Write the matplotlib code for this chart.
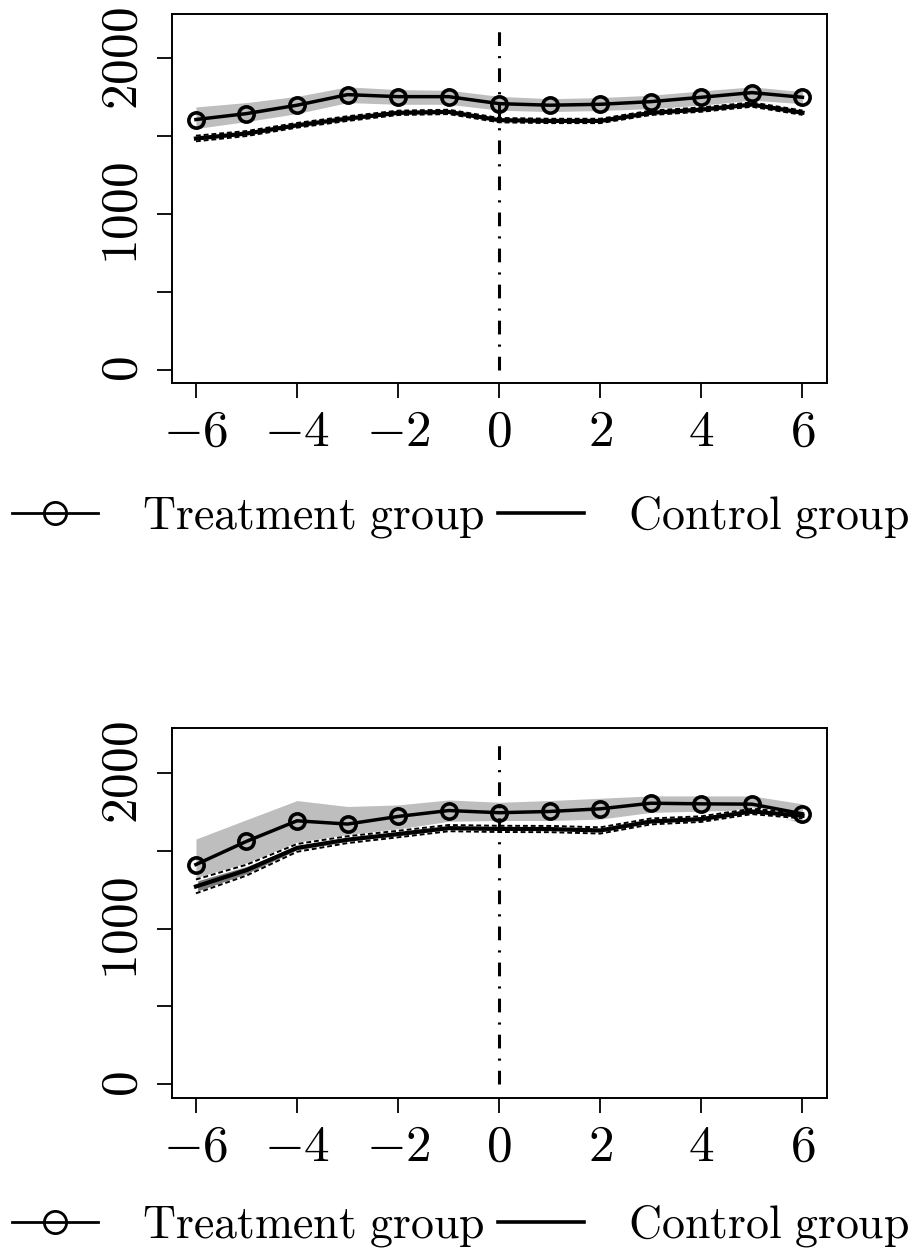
import numpy as np
import matplotlib
matplotlib.use("Agg")
import matplotlib.pyplot as plt
from matplotlib.lines import Line2D

plt.rcParams['mathtext.fontset'] = 'cm'

months = [-6, -5, -4, -3, -2, -1, 0, 1, 2, 3, 4, 5, 6]

# panel 1
treat1 = [1607, 1645, 1699, 1767, 1754, 1754, 1709, 1699, 1705, 1722, 1750, 1780, 1750]
treat1_hi = [1688, 1716, 1756, 1817, 1799, 1795, 1756, 1741, 1748, 1763, 1791, 1817, 1786]
treat1_lo = [1549, 1594, 1645, 1716, 1705, 1705, 1667, 1658, 1665, 1677, 1699, 1731, 1709]
ctrl1 = [1485, 1517, 1570, 1613, 1650, 1656, 1603, 1598, 1598, 1650, 1671, 1703, 1651]
ctrl1_hi = [1503, 1533, 1585, 1628, 1664, 1670, 1617, 1612, 1612, 1664, 1685, 1717, 1665]
ctrl1_lo = [1467, 1501, 1555, 1598, 1636, 1642, 1589, 1584, 1584, 1636, 1657, 1689, 1637]

# panel 2
treat2 = [1412, 1561, 1693, 1672, 1721, 1759, 1745, 1753, 1770, 1806, 1802, 1800, 1738]
treat2_hi = [1576, 1700, 1823, 1785, 1795, 1827, 1812, 1823, 1838, 1853, 1853, 1853, 1802]
treat2_lo = [1260, 1400, 1545, 1600, 1640, 1690, 1695, 1695, 1704, 1747, 1755, 1763, 1678]
ctrl2 = [1271, 1376, 1519, 1572, 1608, 1646, 1641, 1640, 1631, 1689, 1704, 1753, 1725]
ctrl2_hi = [1316, 1411, 1544, 1594, 1629, 1666, 1661, 1660, 1651, 1708, 1722, 1770, 1742]
ctrl2_lo = [1227, 1341, 1494, 1550, 1587, 1626, 1621, 1620, 1611, 1670, 1686, 1736, 1708]

xticks = [-6, -4, -2, 0, 2, 4, 6]
yticks = [0, 500, 1000, 1500, 2000]
ylabels = ['$0$', '', '$1000$', '', '$2000$']

FS_TICK = 37
FS_LEG = 33

fig = plt.figure(figsize=(9.23, 12.54), dpi=100)
ax1 = fig.add_axes([0.186, 0.6943, 0.7097, 0.2949])
ax2 = fig.add_axes([0.186, 0.1244, 0.7097, 0.2949])

panels = [
    (ax1, treat1, treat1_lo, treat1_hi, ctrl1, ctrl1_lo, ctrl1_hi, 0.5877),
    (ax2, treat2, treat2_lo, treat2_hi, ctrl2, ctrl2_lo, ctrl2_hi, 0.0223),
]

for ax, t, tlo, thi, c, clo, chi, legy in panels:
    ax.fill_between(months, tlo, thi, color='#bebebe', linewidth=0, zorder=1)
    ax.fill_between(months, clo, chi, facecolor='#7a7a7a', edgecolor='white',
                    linewidth=2.5, zorder=2)
    ax.plot(months, chi, color='black', lw=1.4, ls=(0, (2.5, 1.5)), zorder=3)
    ax.plot(months, clo, color='black', lw=1.4, ls=(0, (2.5, 1.5)), zorder=3)
    ax.plot(months, c, color='black', lw=3.0, zorder=4)
    ax.plot(months, t, color='black', lw=2.5, marker='o', ms=11, mfc='none',
            mew=2.6, zorder=5)
    ax.plot([0, 0], [0, 2200], color='black', lw=2.2,
            ls=(0, (4.5, 3.3, 0.7, 3.3)), zorder=6)

    ax.set_xlim(-6.48, 6.48)
    ax.set_ylim(-88, 2288)
    ax.set_xticks(xticks, labels=['$%d$' % v for v in xticks])
    ax.set_yticks(yticks, labels=ylabels)
    for lab in ax.get_yticklabels():
        lab.set_rotation(90)
        lab.set_va('center')
    ax.tick_params(length=11, width=1.3, labelsize=FS_TICK, pad=6)
    for s in ax.spines.values():
        s.set_linewidth(1.4)

    handles = [
        Line2D([], [], color='black', lw=2.0, marker='o', ms=16, mfc='none', mew=2.0),
        Line2D([], [], color='black', lw=2.6),
    ]
    fig.legend(handles, [r'$\mathrm{Treatment\ group}$', r'$\mathrm{Control\ group}$'],
               loc='center left', bbox_to_anchor=(12 / 923, legy), ncol=2,
               frameon=False, fontsize=FS_LEG, borderpad=0, borderaxespad=0,
               handlelength=1.88, handletextpad=0.95, columnspacing=0.3)

fig.savefig('out.png', dpi=100)
